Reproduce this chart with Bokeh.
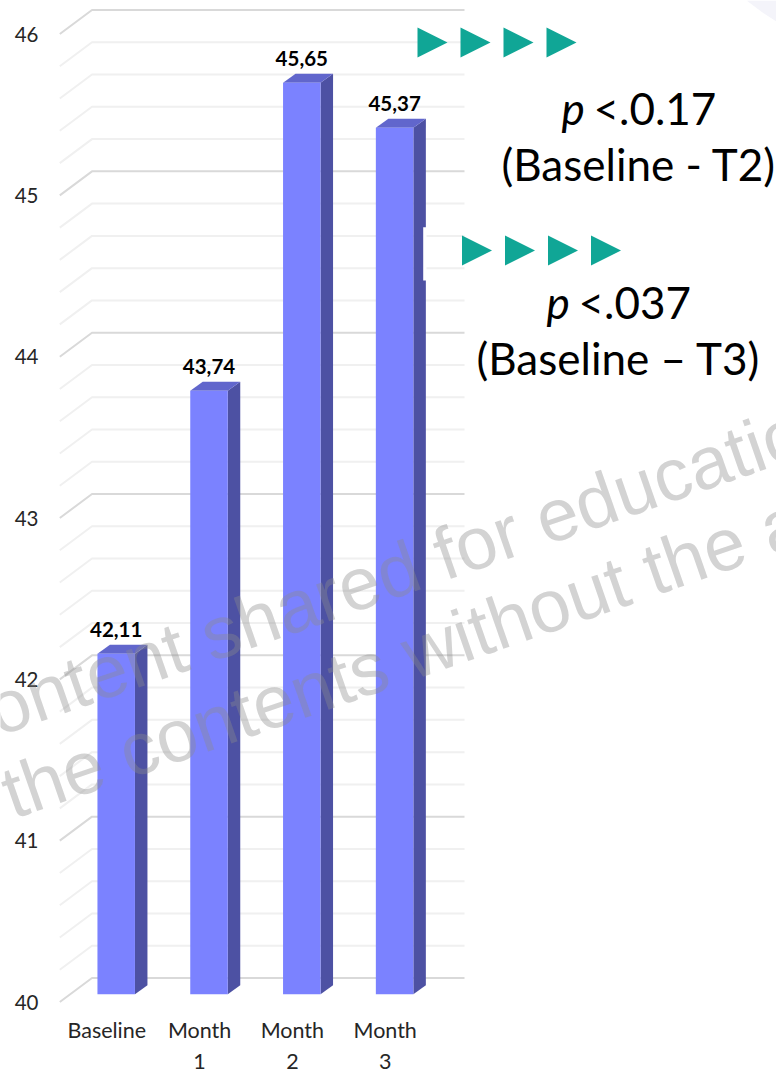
from bokeh.plotting import figure
from bokeh.models import Range1d, LinearAxis, FixedTicker, Label
from bokeh.core.properties import value
from bokeh.embed import file_html
from bokeh.resources import INLINE

categories = ["Baseline", "Month\n1", "Month\n2", "Month\n3"]
values = [42.11, 43.74, 45.65, 45.37]
value_labels = ["42,11", "43,74", "45,65", "45,37"]
y_ticks = [40, 41, 42, 43, 44, 45, 46]
grid_levels = [40 + i * 0.2 for i in range(31)]

W, H = 776, 1072
SX, SY = 92.8, 161.33

def xp(px):  # picture pixel -> bar x units
    return (px - 115.7) / SX
def yp(py):  # picture pixel -> bar y units
    return 40 + (993.7 - py) / SY
def yh(n):
    return n / SY
def xw(n):
    return n / SX

p = figure(width=W, height=H, output_backend="svg", toolbar_location=None,
           x_range=Range1d(xp(0), xp(W)), y_range=Range1d(yp(H), yp(0)),
           min_border=0, outline_line_color=None,
           background_fill_color="white", border_fill_color="white",
           x_axis_location=None, y_axis_location=None)
p.grid.visible = False

p.extra_y_ranges["front"] = Range1d(40 + (1001.5 - H) / SY, 40 + 1001.5 / SY)
p.extra_x_ranges["front"] = Range1d(-106.3 / SX, (W - 106.3) / SX)

ya = LinearAxis(y_range_name="front", ticker=FixedTicker(ticks=y_ticks), axis_line_color=None,
                major_tick_line_color=None, minor_tick_line_color=None,
                fixed_location=xp(59), major_label_standoff=15, major_label_text_font="Lato",
                major_label_text_font_size="20.5px", major_label_text_color="#262626")
p.add_layout(ya, "left")
xa = LinearAxis(x_range_name="front", ticker=FixedTicker(ticks=[0, 1, 2, 3]), axis_line_color=None,
                major_tick_line_color=None, minor_tick_line_color=None,
                major_label_overrides={i: c for i, c in enumerate(categories)},
                fixed_location=yp(1006), major_label_standoff=4, major_label_text_font="Lato",
                major_label_text_font_size="21.5px", major_label_text_color="#262626")
p.add_layout(xa, "below")

# faint corner shape
p.patches([[xp(746), xp(762), xp(776), xp(776)]], [[yp(0), yp(12), yp(21), yp(0)]],
          fill_color="#f4f4fa", line_color=None)

# grid lines: slanted floor segment then back wall
dy_grid = yh(24)
gx = [xp(59.3), xp(91.5), xp(464)]
for i, g in enumerate(grid_levels):
    major = i % 5 == 0
    p.line(gx, [g, g + dy_grid, g + dy_grid], y_range_name="front",
           line_color="#d9d9d9" if major else "#f0f0f0", line_width=2)

# bars
bw = xw(37.5)
dx, dy = xw(12.5), yh(9)
xs = list(range(len(values)))
p.patches([[x + bw / 2, x + bw / 2 + dx, x + bw / 2 + dx, x + bw / 2] for x in xs],
          [[40, 40 + dy, v + dy, v] for v in values], fill_color="#4d51a3", line_color=None)
p.patches([[x - bw / 2, x - bw / 2 + dx, x + bw / 2 + dx, x + bw / 2] for x in xs],
          [[v, v + dy, v + dy, v] for v in values], fill_color="#6166cc", line_color=None)
p.vbar(x=xs, top=values, bottom=40, width=bw, fill_color="#7b82ff", line_color=None)
p.text(x=xs, y=[v + yh(24) for v in values], text=value_labels, text_font=value("Lato"),
       text_font_size="20.5px", text_font_style="bold", text_align="center",
       text_baseline="middle", text_color="#000000")

# white notch from the pasted picture
p.quad(left=xp(422.7), right=xp(426), bottom=yp(280), top=yp(226.7), fill_color="white", line_color=None)

# arrows
teal = "#10a696"
for x0, y0 in [(417, 27), (461.5, 235)]:
    p.patches([[xp(x0 + 43 * k), xp(x0 + 43 * k + 30), xp(x0 + 43 * k)] for k in range(4)],
              [[yp(y0), yp(y0 + 15), yp(y0 + 30)] for k in range(4)], fill_color=teal, line_color=None)

def note(px, py, t, style="normal"):
    p.add_layout(Label(x=xp(px), y=yp(py), text=t, text_font="Lato", text_font_size="44px",
                       text_font_style=style, text_align="left", text_baseline="middle",
                       text_color="#000000"))
note(561, 107, "p", "italic")
note(593, 107, "<.0.17")
note(501, 163, "(Baseline - T2)")
note(546, 301, "p", "italic")
note(578, 301, "<.037")
note(476, 357, "(Baseline – T3)")

# watermark
for px, py, t in [(-11, 712, "ontent shared for educatio"),
                  (4, 795, "the contents without the a")]:
    p.add_layout(Label(x=xp(px), y=yp(py), text=t, text_font="Liberation Sans", text_font_size="74px",
                       angle=19.2, angle_units="deg", text_baseline="alphabetic",
                       text_color="#8c8c8c", text_alpha=0.38))

open("out.html", "w").write(file_html(p, INLINE))
